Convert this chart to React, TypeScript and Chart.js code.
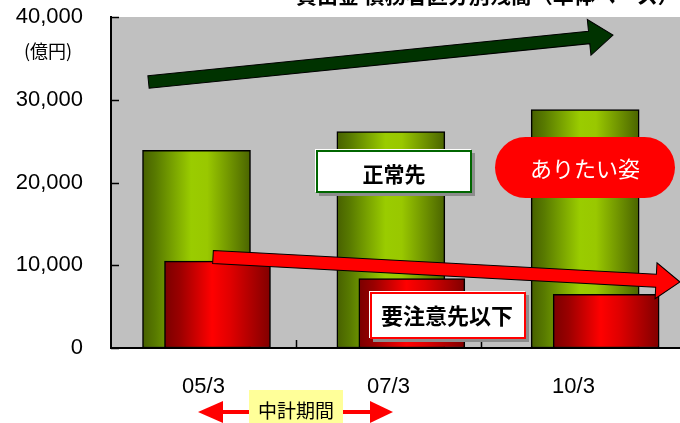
import React, { useEffect, useRef } from 'react';
import { Chart, registerables } from 'chart.js';

Chart.register(...registerables);

// ---- data ----
const CATEGORIES = ['05/3', '07/3', '10/3'];
const NORMAL = [23900, 26150, 28800]; // 正常先
const WATCH = [10500, 8400, 6500]; // 要注意先以下
const Y_MIN = 0;
const Y_MAX = 40000;
const Y_STEP = 10000;
const TITLE = '貸出金 債務者区分別残高（単体ベース）';
const UNIT = '(億円)';
const LABEL_NORMAL = '正常先';
const LABEL_WATCH = '要注意先以下';
const LABEL_GOAL = 'ありたい姿';
const LABEL_PERIOD = '中計期間';

// ---- layout / style constants ----
const W = 680;
const H = 423;
const PAIR_OFFSET = 0.054; // bars of a pair overlap, shifted left/right
const BAR_AXIS = { min: -0.494, max: 2.434 };
const LABEL_AXIS = { min: -0.5, max: 2.5757 };
const JP = '"Noto Sans CJK JP", "Noto Sans", sans-serif';
const LAT = '"Liberation Sans", Arial, sans-serif';

function barGradient(ctx: any, kind: 'green' | 'red') {
  const chart = ctx.chart;
  const area = chart.chartArea;
  if (!area || ctx.type !== 'data') return kind === 'green' ? '#99cc00' : '#ff0000';
  const raw = ctx.raw as { x: number };
  const xs = chart.scales.xb;
  const cx = xs.getPixelForValue(raw.x);
  const half = 54;
  const g = chart.ctx.createLinearGradient(cx - half, 0, cx + half, 0);
  if (kind === 'green') {
    g.addColorStop(0, '#476000');
    g.addColorStop(0.12, '#587a00');
    g.addColorStop(0.45, '#9acc00');
    g.addColorStop(0.6, '#99c800');
    g.addColorStop(1, '#4a6400');
  } else {
    g.addColorStop(0, '#780000');
    g.addColorStop(0.15, '#9a0000');
    g.addColorStop(0.45, '#ff0000');
    g.addColorStop(0.62, '#e00000');
    g.addColorStop(1, '#7e0000');
  }
  return g;
}

function drawArrow(
  ctx: CanvasRenderingContext2D,
  x1: number, y1: number, x2: number, y2: number,
  shaftW: number, headL: number, headW: number,
  fill: string
) {
  const ang = Math.atan2(y2 - y1, x2 - x1);
  const len = Math.hypot(x2 - x1, y2 - y1);
  ctx.save();
  ctx.translate(x1, y1);
  ctx.rotate(ang);
  ctx.beginPath();
  ctx.moveTo(0, -shaftW / 2);
  ctx.lineTo(len - headL, -shaftW / 2);
  ctx.lineTo(len - headL, -headW);
  ctx.lineTo(len, 0);
  ctx.lineTo(len - headL, headW);
  ctx.lineTo(len - headL, shaftW / 2);
  ctx.lineTo(0, shaftW / 2);
  ctx.closePath();
  ctx.fillStyle = fill;
  ctx.fill();
  ctx.lineWidth = 1;
  ctx.strokeStyle = '#000';
  ctx.stroke();
  ctx.restore();
}

function labelBox(
  ctx: CanvasRenderingContext2D,
  x: number, y: number, w: number, h: number,
  border: string, text: string, font: string, tx: number, ty: number
) {
  ctx.save();
  ctx.fillStyle = '#8c8c8c';
  ctx.fillRect(x + 3, y + 3, w, h);
  ctx.fillStyle = '#ffffff';
  ctx.fillRect(x - 1, y - 1, w, h);
  ctx.fillRect(x, y, w, h);
  ctx.lineWidth = 2;
  ctx.strokeStyle = border;
  ctx.strokeRect(x + 1, y + 1, w - 2, h - 2);
  ctx.fillStyle = '#000';
  ctx.font = font;
  ctx.textAlign = 'center';
  ctx.textBaseline = 'middle';
  ctx.fillText(text, tx, ty);
  ctx.restore();
}

const backgroundPlugin = {
  id: 'plotBg',
  beforeDraw(chart: any) {
    const { ctx, chartArea: a } = chart;
    ctx.save();
    ctx.fillStyle = '#ffffff';
    ctx.fillRect(0, 0, chart.width, chart.height);
    ctx.fillStyle = '#c0c0c0';
    ctx.fillRect(a.left, a.top, a.right - a.left, a.bottom - a.top);
    ctx.restore();
  },
  beforeDatasetsDraw(chart: any) {
    const { ctx, chartArea: a, scales } = chart;
    ctx.save();
    ctx.strokeStyle = '#000';
    ctx.lineWidth = 1.5;
    for (let v = Y_MIN; v <= Y_MAX; v += Y_STEP) {
      const y = Math.round(scales.y.getPixelForValue(v)) + 0.5;
      ctx.beginPath();
      ctx.moveTo(a.left, y);
      ctx.lineTo(a.left + 8, y);
      ctx.stroke();
    }
    for (let i = 0; i < CATEGORIES.length - 1; i++) {
      const x = Math.round(scales.x.getPixelForValue(i + 0.5)) + 0.5;
      ctx.beginPath();
      ctx.moveTo(x, a.bottom);
      ctx.lineTo(x, a.bottom - 8);
      ctx.stroke();
    }
    ctx.restore();
  },
};

const annotationPlugin = {
  id: 'annotations',
  afterDatasetsDraw(chart: any) {
    const ctx: CanvasRenderingContext2D = chart.ctx;
    // trend arrows
    drawArrow(ctx, 148.5, 82, 613, 35, 12.5, 24, 18, '#003300');
    drawArrow(ctx, 213, 257, 680, 282, 13, 24, 18, '#ff0000');

    // legend-like boxes
    labelBox(ctx, 316, 150, 156, 43, '#006600', LABEL_NORMAL, `bold 21px ${JP}`, 394, 174);
    labelBox(ctx, 370, 292, 156, 47, '#ff0000', LABEL_WATCH, `bold 22px ${JP}`, 447, 316);

    // pill
    ctx.save();
    const px = 495, py = 137, pw = 180, ph = 61, r = ph / 2;
    ctx.beginPath();
    ctx.moveTo(px + r, py);
    ctx.lineTo(px + pw - r, py);
    ctx.arc(px + pw - r, py + r, r, -Math.PI / 2, Math.PI / 2);
    ctx.lineTo(px + r, py + ph);
    ctx.arc(px + r, py + r, r, Math.PI / 2, (3 * Math.PI) / 2);
    ctx.closePath();
    ctx.fillStyle = '#ff0000';
    ctx.fill();
    ctx.fillStyle = '#ffffff';
    ctx.font = `22px ${JP}`;
    ctx.textAlign = 'center';
    ctx.textBaseline = 'middle';
    ctx.fillText(LABEL_GOAL, 585, 169);
    ctx.restore();
  },
  afterDraw(chart: any) {
    const ctx: CanvasRenderingContext2D = chart.ctx;
    ctx.save();
    // title (cut at top edge)
    ctx.fillStyle = '#000';
    ctx.font = `bold 21px ${JP}`;
    ctx.textAlign = 'left';
    ctx.textBaseline = 'ideographic';
    ctx.fillText(TITLE, 296, 6);
    // unit
    ctx.font = `18px ${JP}`;
    ctx.textAlign = 'center';
    ctx.textBaseline = 'middle';
    ctx.fillText(UNIT, 48, 51);

    // mid-term period double arrow
    ctx.fillStyle = '#ff0000';
    ctx.fillRect(222, 410, 150, 4);
    ctx.beginPath();
    ctx.moveTo(198, 412);
    ctx.lineTo(223, 401);
    ctx.lineTo(223, 423);
    ctx.closePath();
    ctx.fill();
    ctx.beginPath();
    ctx.moveTo(393, 412);
    ctx.lineTo(370, 401);
    ctx.lineTo(370, 423);
    ctx.closePath();
    ctx.fill();
    ctx.fillStyle = '#ffff99';
    ctx.fillRect(249, 390, 94, 34);
    ctx.fillStyle = '#000';
    ctx.font = `19px ${JP}`;
    ctx.fillText(LABEL_PERIOD, 296, 411);
    ctx.restore();
  },
};

export default function App() {
  const ref = useRef<HTMLCanvasElement | null>(null);

  useEffect(() => {
    if (!ref.current) return;
    Chart.defaults.font.family = LAT;
    const chart = new Chart(ref.current, {
      type: 'bar',
      data: {
        datasets: [
          {
            label: LABEL_NORMAL,
            data: NORMAL.map((v, i) => ({ x: i - PAIR_OFFSET, y: v })),
            xAxisID: 'xb',
            yAxisID: 'y',
            grouped: false,
            order: 2,
            barThickness: 108,
            backgroundColor: (c: any) => barGradient(c, 'green'),
            borderColor: '#000',
            borderWidth: 1.5,
            borderSkipped: false,
          } as any,
          {
            label: LABEL_WATCH,
            data: WATCH.map((v, i) => ({ x: i + PAIR_OFFSET, y: v })),
            xAxisID: 'xb',
            yAxisID: 'y',
            grouped: false,
            order: 1,
            barThickness: 106,
            backgroundColor: (c: any) => barGradient(c, 'red'),
            borderColor: '#000',
            borderWidth: 1.5,
            borderSkipped: false,
          } as any,
        ],
      },
      options: {
        animation: false,
        responsive: false,
        devicePixelRatio: 1,
        layout: { padding: { top: 17, left: 0, right: 0, bottom: 0 } },
        plugins: {
          legend: { display: false },
          tooltip: { enabled: false },
          title: { display: false },
        },
        scales: {
          xb: {
            type: 'linear',
            display: false,
            offset: false,
            bounds: 'ticks',
            min: BAR_AXIS.min,
            max: BAR_AXIS.max,
          },
          x: {
            type: 'linear',
            position: 'bottom',
            offset: false,
            min: LABEL_AXIS.min,
            max: LABEL_AXIS.max,
            afterBuildTicks: (s: any) => {
              s.ticks = CATEGORIES.map((_, i) => ({ value: i }));
            },
            afterFit: (s: any) => {
              s.height = 75;
              s.paddingLeft = 0;
              s.paddingRight = 0;
            },
            grid: { display: false, drawTicks: false, offset: false },
            border: { display: true, color: '#000', width: 2 },
            ticks: {
              autoSkip: false,
              maxRotation: 0,
              padding: 26,
              color: '#000',
              font: { size: 22, family: LAT },
              callback: (v: any) => CATEGORIES[Math.round(Number(v))] ?? '',
            },
          },
          y: {
            type: 'linear',
            min: Y_MIN,
            max: Y_MAX,
            afterFit: (s: any) => {
              s.width = 111;
              s.paddingTop = 0;
              s.paddingBottom = 0;
            },
            grid: { display: false, drawTicks: false },
            border: { display: true, color: '#000', width: 2 },
            ticks: {
              stepSize: Y_STEP,
              padding: 28,
              color: '#000',
              font: { size: 22, family: LAT },
              callback: (v: any) => Number(v).toLocaleString('en-US'),
            },
          },
        },
      } as any,
      plugins: [backgroundPlugin, annotationPlugin],
    });
    return () => chart.destroy();
  }, []);

  return (
    <div style={{ position: 'fixed', left: 0, top: 0, width: W, height: H, background: '#fff' }}>
      <canvas ref={ref} width={W} height={H} style={{ display: 'block', width: W, height: H }} />
    </div>
  );
}
